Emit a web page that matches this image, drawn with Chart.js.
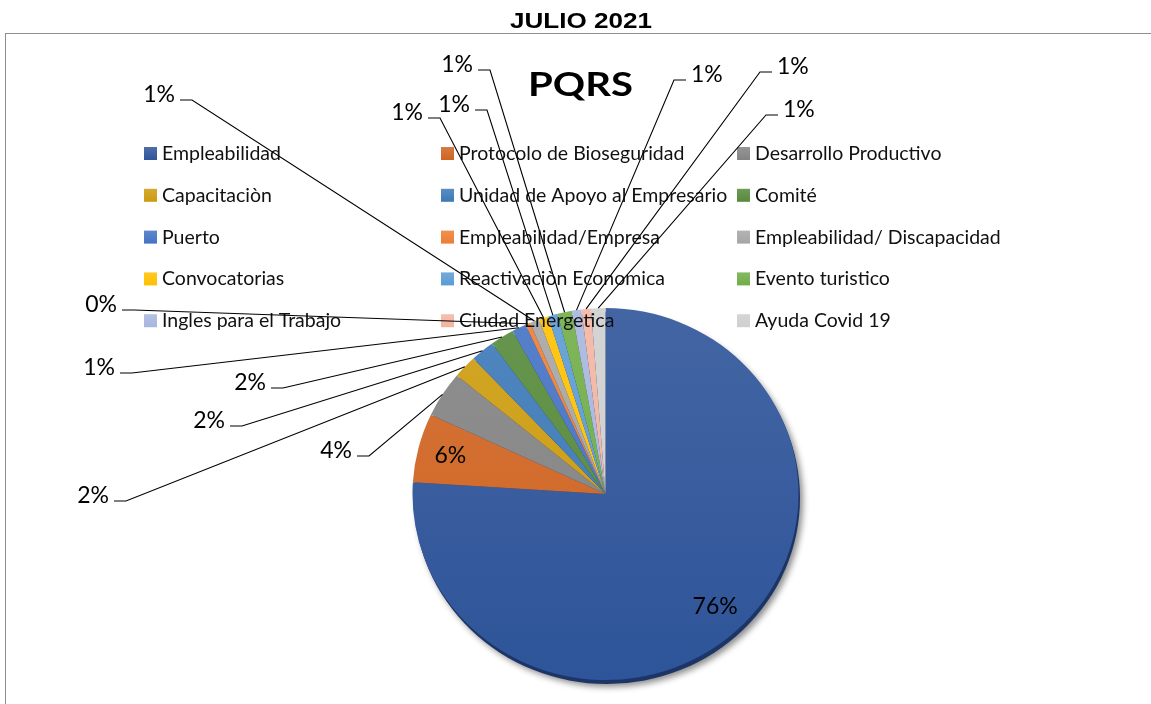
<!DOCTYPE html>
<html>
<head>
<meta charset="utf-8">
<title>PQRS julio 2021</title>
<script src="https://cdn.jsdelivr.net/npm/chart.js@4.4.0/dist/chart.umd.min.js"></script>
<style>
  html, body { margin: 0; padding: 0; background: #fff; }
  #wrap { position: relative; width: 1151px; height: 704px; overflow: hidden; }
  #frame { position: absolute; left: 5px; top: 33px; width: 1200px; height: 800px;
           border-left: 1px solid #8e8e8e; border-top: 1px solid #8e8e8e; }
  #pqrsChart { position: absolute; left: 0; top: 0; }
</style>
</head>
<body>
<div id="wrap">
  <div id="frame"></div>
  <canvas id="pqrsChart" width="1151" height="704"></canvas>
</div>
<script>
// PQRS received in July 2021, by area
const categories = [
  'Empleabilidad', 'Protocolo de Bioseguridad', 'Desarrollo Productivo',
  'Capacitaciòn', 'Unidad de Apoyo al Empresario', 'Comité',
  'Puerto', 'Empleabilidad/Empresa', 'Empleabilidad/ Discapacidad',
  'Convocatorias', 'Reactivaciòn Economica', 'Evento turistico',
  'Ingles para el Trabajo', 'Ciudad Energetica', 'Ayuda Covid 19'
];
const requests = [190, 15, 10, 5, 5, 5, 3, 1, 2, 2, 2, 3, 2, 2, 3];
const sliceColors = [
  '#2E5499', '#CF6422', '#838383', '#CC9B0E', '#3C79B7', '#56893A',
  '#4472C4', '#ED7D31', '#A5A5A5', '#FFC000', '#5B9BD5', '#70AD47',
  '#A7B6DE', '#F3B4A0', '#CFCFCF'
];

// where the outside percentages sit (x = text edge next to the leader stub, y = baseline)
const labelSpots = [
  null, null,
  { x: 352, y: 458, side: 'left' },
  { x: 109, y: 503, side: 'left' },
  { x: 225, y: 428, side: 'left' },
  { x: 266, y: 390, side: 'left' },
  { x: 115, y: 375, side: 'left' },
  { x: 117, y: 312, side: 'left' },
  { x: 175, y: 102, side: 'left' },
  { x: 423, y: 120, side: 'left' },
  { x: 470, y: 112, side: 'left' },
  { x: 473, y: 72, side: 'left' },
  { x: 691, y: 82, side: 'right' },
  { x: 777, y: 74, side: 'right' },
  { x: 783, y: 117, side: 'right' }
];

const legendCols = [144, 441, 737];
const legendTop = 147;
const legendGap = 41.8;

// pie centre and radii (drawn slightly flattened)
const cx = 605.5, cy = 494, rx = 193, ry = 186;

const total = requests.reduce((a, b) => a + b, 0);

function shade(hex, amt) {
  const n = parseInt(hex.slice(1), 16);
  const mix = c => Math.round(c + (255 - c) * amt);
  return `rgb(${mix(n >> 16)}, ${mix((n >> 8) & 255)}, ${mix(n & 255)})`;
}

function fitText(ctx, text, x, y, width) {
  const w = ctx.measureText(text).width;
  ctx.save();
  ctx.translate(x, y);
  ctx.scale(width / w, 1);
  ctx.textAlign = 'left';
  ctx.fillText(text, 0, 0);
  ctx.restore();
}

const pqrsDecor = {
  id: 'pqrsDecor',
  beforeDatasetsDraw(chart) {
    const ctx = chart.ctx;
    // dark rim + soft shadow under the pie
    ctx.save();
    ctx.shadowColor = 'rgba(0, 0, 0, 0.45)';
    ctx.shadowBlur = 6;
    ctx.shadowOffsetX = 3;
    ctx.shadowOffsetY = 3;
    ctx.fillStyle = '#1c3566';
    ctx.beginPath();
    ctx.ellipse(cx + 1.5, cy + 4, rx, ry, 0, 0, Math.PI * 2);
    ctx.fill();
    ctx.restore();
    // squash the pie vertically; undone in afterDatasetsDraw
    ctx.save();
    ctx.translate(cx, cy);
    ctx.scale(1, ry / rx);
    ctx.translate(-cx, -cy);
  },
  afterDatasetsDraw(chart) {
    const ctx = chart.ctx;
    ctx.restore();
    const arcs = chart.getDatasetMeta(0).data;
    ctx.save();

    // titles
    ctx.fillStyle = '#000';
    ctx.textBaseline = 'alphabetic';
    ctx.font = 'bold 22px "Liberation Sans", Arial, sans-serif';
    fitText(ctx, 'JULIO 2021', 510, 28, 142);
    ctx.font = 'bold 33px Lato, sans-serif';
    fitText(ctx, 'PQRS', 528, 96, 105);

    // legend, three columns
    ctx.font = '19.5px Lato, sans-serif';
    ctx.textAlign = 'left';
    categories.forEach((name, i) => {
      const x = legendCols[i % 3];
      const y = legendTop + Math.floor(i / 3) * legendGap;
      const g = ctx.createLinearGradient(0, y, 0, y + 13);
      g.addColorStop(0, shade(sliceColors[i], 0.15));
      g.addColorStop(1, sliceColors[i]);
      ctx.fillStyle = g;
      ctx.fillRect(x, y, 13, 13);
      ctx.fillStyle = '#111';
      ctx.fillText(name, x + 18, y + 13);
    });

    // percentages and leader lines
    ctx.font = '23px Lato, sans-serif';
    ctx.strokeStyle = '#000';
    ctx.lineWidth = 1.1;
    arcs.forEach((arc, i) => {
      const pct = Math.round(requests[i] / total * 100) + '%';
      const mid = (arc.startAngle + arc.endAngle) / 2;
      const spot = labelSpots[i];
      ctx.fillStyle = '#000';
      if (!spot) {
        ctx.textAlign = 'center';
        ctx.textBaseline = 'middle';
        ctx.fillText(pct, cx + Math.cos(mid) * rx * 0.83, cy + Math.sin(mid) * ry * 0.83);
        return;
      }
      const ex = cx + Math.cos(mid) * rx;
      const ey = cy + Math.sin(mid) * ry;
      const sy = spot.y - 2;
      const sx0 = spot.side === 'left' ? spot.x + 5 : spot.x - 5;
      const sx1 = spot.side === 'left' ? sx0 + 12 : sx0 - 12;
      ctx.beginPath();
      ctx.moveTo(sx0, sy);
      ctx.lineTo(sx1, sy);
      ctx.lineTo(ex, ey);
      ctx.stroke();
      ctx.textBaseline = 'alphabetic';
      ctx.textAlign = spot.side === 'left' ? 'right' : 'left';
      ctx.fillText(pct, spot.x, spot.y);
    });
    ctx.restore();
  }
};

new Chart(document.getElementById('pqrsChart'), {
  type: 'pie',
  data: {
    labels: categories,
    datasets: [{
      data: requests,
      backgroundColor: (c) => {
        const base = sliceColors[c.dataIndex];
        const area = c.chart.chartArea;
        if (!area) return base;
        const g = c.chart.ctx.createLinearGradient(0, area.top, 0, area.bottom);
        g.addColorStop(0, shade(base, 0.1));
        g.addColorStop(1, base);
        return g;
      },
      borderWidth: 0
    }]
  },
  options: {
    responsive: false,
    animation: false,
    layout: {
      padding: {
        left: cx - rx,
        right: 1151 - cx - rx,
        top: cy - rx,
        bottom: 704 - cy - rx
      }
    },
    plugins: {
      legend: { display: false },
      title: { display: false },
      tooltip: { enabled: false }
    }
  },
  plugins: [pqrsDecor]
});
</script>
</body>
</html>
